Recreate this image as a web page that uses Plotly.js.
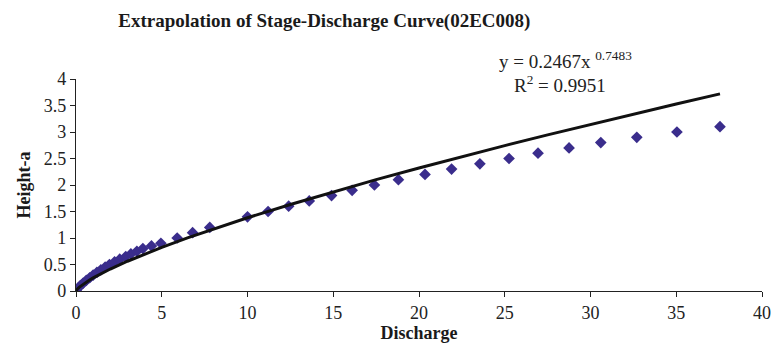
<!DOCTYPE html>
<html>
<head>
<meta charset="utf-8">
<script src="https://cdn.plot.ly/plotly-3.0.1.min.js"></script>
<style>html,body{margin:0;padding:0;background:#fff;}#chart{width:774px;height:343px;}</style>
</head>
<body>
<div id="chart"></div>
<script>
// Observed data (Discharge, Height-a)
const discharge = [0.02, 0.1, 0.25, 0.42, 0.6, 0.8, 1.0, 1.22, 1.45, 1.7, 1.95, 2.25, 2.55, 2.9, 3.2, 3.55, 3.9, 4.4, 4.95,
  5.9, 6.8, 7.8, 10.0, 11.2, 12.4, 13.6, 14.9, 16.1, 17.4, 18.8, 20.35, 21.9, 23.55, 25.25, 26.94, 28.75, 30.6, 32.7, 35.04, 37.55];
const height = [0.0, 0.05, 0.1, 0.15, 0.2, 0.25, 0.3, 0.35, 0.4, 0.45, 0.5, 0.55, 0.6, 0.65, 0.7, 0.75, 0.8, 0.85, 0.9,
  1.0, 1.1, 1.2, 1.4, 1.5, 1.6, 1.7, 1.8, 1.9, 2.0, 2.1, 2.2, 2.3, 2.4, 2.5, 2.6, 2.7, 2.8, 2.9, 3.0, 3.1];
// Power trendline coefficients (y = a x^b)
const coefA = 0.2467;
const coefB = 0.7483;
const trendX = [0, 0.01, 0.03, 0.06, 0.1, 0.2, 0.35, 0.5, 0.75, 1, 1.5, 2, 3, 4, 5, 6.5, 8, 10, 12.5, 15, 17.5, 20, 22.5, 25, 27.5, 30, 32.5, 35, 37.55];

const trendY = trendX.map(x => coefA * Math.pow(x, coefB));
const serif = "Liberation Serif, Times New Roman, serif";

const traces = [
  {x: discharge, y: height, type: 'scatter', mode: 'markers',
   marker: {symbol: 'diamond', size: 9, color: '#3a2d8c'}, hoverinfo: 'skip'},
  {x: trendX, y: trendY, type: 'scatter', mode: 'lines', line: {color: '#111111', width: 3}, hoverinfo: 'skip'}
];

const layout = {
  width: 774, height: 343,
  margin: {l: 76, r: 12, t: 79, b: 52},
  paper_bgcolor: '#fff', plot_bgcolor: '#fff',
  showlegend: false,
  title: {text: 'Extrapolation of Stage-Discharge Curve(02EC008)', font: {family: serif, size: 19, color: '#1a1a1a', weight: 'bold'},
          x: 0.419, xanchor: 'center', y: 0.94, yanchor: 'middle'},
  xaxis: {range: [0, 40], dtick: 5, tick0: 0, showgrid: false, zeroline: false,
          showline: true, linecolor: '#222', linewidth: 1.2, ticks: 'outside', ticklen: 5, tickcolor: '#222',
          tickfont: {family: serif, size: 18, color: '#222'},
          title: {text: '<b>Discharge</b>', font: {family: serif, size: 18, color: '#1a1a1a'}, standoff: 0}},
  yaxis: {range: [0, 4], dtick: 0.5, tick0: 0, showgrid: false, zeroline: false,
          showline: true, linecolor: '#222', linewidth: 1.2, ticks: 'outside', ticklen: 5, tickcolor: '#222',
          tickfont: {family: serif, size: 18, color: '#222'},
          title: {text: '<b>Height-a</b>', font: {family: serif, size: 18, color: '#1a1a1a'}, standoff: 8}},
  annotations: [
    {xref: 'paper', yref: 'paper', x: 0.714, y: 1.09, xanchor: 'center', yanchor: 'middle', showarrow: false,
     text: 'y = 0.2467x <sup>0.7483</sup>', font: {family: serif, size: 19, color: '#222'}},
    {xref: 'paper', yref: 'paper', x: 0.706, y: 0.976, xanchor: 'center', yanchor: 'middle', showarrow: false,
     text: 'R<sup>2</sup> = 0.9951', font: {family: serif, size: 19, color: '#222'}}
  ]
};

Plotly.newPlot('chart', traces, layout, {displayModeBar: false, staticPlot: true});
</script>
</body>
</html>
